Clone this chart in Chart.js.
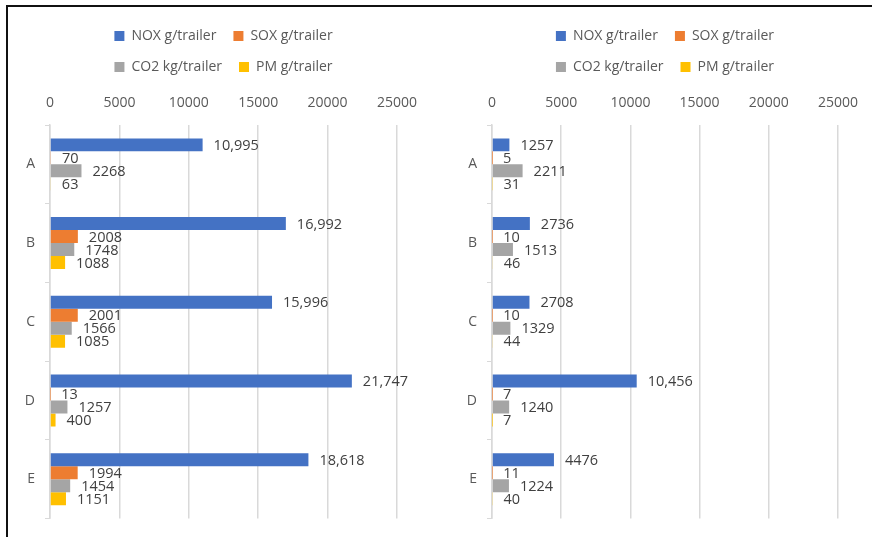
<!DOCTYPE html>
<html>
<head>
<meta charset="utf-8">
<script src="https://cdn.jsdelivr.net/npm/chart.js@4.4.1/dist/chart.umd.min.js"></script>
<style>
  html, body { margin: 0; padding: 0; background: #fff; overflow: hidden; }
  #frame {
    position: absolute; left: 6px; top: 5px; width: 880px; height: 560px;
    border-top: 2px solid #111; border-left: 2px solid #111;
  }
  canvas { position: absolute; top: 8px; }
  #left { left: 8px; }
  #right { left: 438px; }
</style>
</head>
<body>
<div id="frame"></div>
<canvas id="left" width="430" height="529"></canvas>
<canvas id="right" width="434" height="529"></canvas>
<script>
var categories = ['A', 'B', 'C', 'D', 'E'];
var seriesNames = ['NOX g/trailer', 'SOX g/trailer', 'CO2 kg/trailer', 'PM g/trailer'];
var seriesColors = ['#4472C4', '#ED7D31', '#A5A5A5', '#FFC000'];

// left panel
var leftNox = [10995, 16992, 15996, 21747, 18618];
var leftSox = [70, 2008, 2001, 13, 1994];
var leftCo2 = [2268, 1748, 1566, 1257, 1454];
var leftPm  = [63, 1088, 1085, 400, 1151];

// right panel
var rightNox = [1257, 2736, 2708, 10456, 4476];
var rightSox = [5, 10, 10, 7, 11];
var rightCo2 = [2211, 1513, 1329, 1240, 1224];
var rightPm  = [31, 46, 44, 7, 40];

var axisMax = 25000;
var axisStep = 5000;

var FONT = '"Open Sans", "Noto Sans", sans-serif';

function fmt(v) {
  return v >= 10000 ? v.toLocaleString('en-US') : String(v);
}

// value labels to the right of each bar
var barLabels = {
  id: 'barLabels',
  afterDatasetsDraw: function (chart) {
    var ctx = chart.ctx;
    ctx.save();
    ctx.font = '14.5px ' + FONT;
    ctx.fillStyle = '#404040';
    ctx.textAlign = 'left';
    ctx.textBaseline = 'middle';
    chart.data.datasets.forEach(function (ds, i) {
      chart.getDatasetMeta(i).data.forEach(function (bar, j) {
        ctx.fillText(fmt(ds.data[j]), bar.x + 11, bar.y + 1);
      });
    });
    ctx.restore();
  }
};

function makeChart(id, series, padLeft, padRight) {
  var datasets = series.map(function (values, i) {
    return {
      label: seriesNames[i],
      data: values,
      backgroundColor: seriesColors[i],
      categoryPercentage: 0.66,
      barPercentage: 1.0
    };
  });

  return new Chart(document.getElementById(id), {
    type: 'bar',
    data: { labels: categories, datasets: datasets },
    plugins: [barLabels],
    options: {
      indexAxis: 'y',
      responsive: false,
      animation: false,
      devicePixelRatio: 1,
      layout: { padding: { top: 4, left: padLeft, right: padRight, bottom: 12 } },
      plugins: {
        tooltip: { enabled: false },
        legend: {
          position: 'top',
          fullSize: false,
          labels: {
            boxWidth: 10,
            boxHeight: 10,
            padding: 17,
            color: '#595959',
            font: { size: 14, family: FONT }
          }
        }
      },
      scales: {
        x: {
          position: 'top',
          min: 0,
          max: axisMax,
          afterFit: function (s) { s.height = 41; },
          border: { display: false },
          grid: { color: '#d9d9d9', lineWidth: 1.5, drawTicks: false },
          ticks: {
            stepSize: axisStep,
            padding: 14,
            color: '#595959',
            font: { size: 14, family: FONT },
            callback: function (v) { return String(v); }
          }
        },
        y: {
          afterFit: function (s) { s.width = 42; },
          border: { color: '#d9d9d9', width: 1.5 },
          grid: { drawOnChartArea: false, color: '#d9d9d9', tickLength: 5 },
          ticks: {
            padding: 10,
            color: '#595959',
            font: { size: 14, family: FONT }
          }
        }
      }
    }
  });
}

makeChart('left', [leftNox, leftSox, leftCo2, leftPm], 0, 41);
makeChart('right', [rightNox, rightSox, rightCo2, rightPm], 12, 33);
</script>
</body>
</html>
